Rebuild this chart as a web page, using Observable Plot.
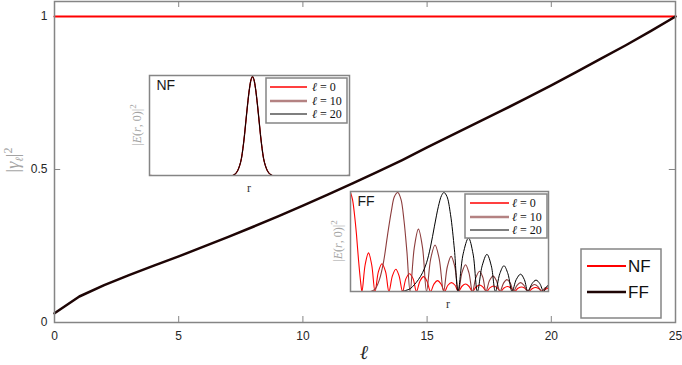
<!DOCTYPE html>
<html><head><meta charset="utf-8">
<script src="https://cdn.jsdelivr.net/npm/d3@7"></script>
<script src="https://cdn.jsdelivr.net/npm/@observablehq/plot@0.6"></script>
<style>
body{margin:0;background:#fff}
#c{position:relative;width:682px;height:365px;overflow:hidden;background:#fff}
#c > svg, #c > .plot{position:absolute}
.lbl{position:absolute;transform:translate(-50%,-50%);white-space:nowrap;font-family:"Liberation Serif","Times New Roman",serif}
svg.leg text.serif{font-family:"Liberation Serif","Times New Roman",serif}
svg.leg text.sans{font-family:"Liberation Sans",Arial,sans-serif}
</style></head><body><div id="c"></div>
<script>
// ---- main chart data ----
const ell = [0,1,2,3,4,5,6,7,8,9,10,11,12,13,14,15,16,17,18,19,20,21,22,23,24,25];
const nfGamma = [1,1,1,1,1,1,1,1,1,1,1,1,1,1,1,1,1,1,1,1,1,1,1,1,1,1];
const ffGamma = [0.03,0.085,0.122,0.155,0.186,0.216,0.248,0.28,0.313,0.347,0.382,0.418,0.455,0.492,0.531,0.572,0.612,0.652,0.692,0.733,0.775,0.818,0.862,0.906,0.952,1.0];
const xTicks = [0,5,10,15,20,25];
const yTicks = [0,0.5,1];
const seriesNames = ["NF","FF"];
const insetNames = ["\u2113 = 0","\u2113 = 10","\u2113 = 20"];

// ---- NF inset (all three orders coincide) ----
const nfR = [0,4.15,4.35,4.55,4.70,4.80,4.90,5.00,5.08,5.15,5.22,5.30,5.40,5.50,5.60,5.75,5.95,6.15,10];
const nfE = [0,0,0.03,0.13,0.32,0.51,0.71,0.88,0.97,1.0,0.97,0.88,0.71,0.51,0.32,0.13,0.03,0,0];

// ---- FF inset ----
const ff0R = [0,0.10,0.20,0.30,0.40,0.51,0.58, 0.74,0.91,1.07,1.24, 1.41,1.59,1.77,1.94, 2.12,2.29,2.45,2.63, 2.80,2.98,3.16,3.33, 3.51,3.69,3.86,4.04, 4.22,4.39,4.57,4.75, 4.92,5.10,5.28,5.45, 5.63,5.81,5.98,6.16, 6.34,6.52,6.69,6.87, 7.05,7.22,7.40,7.58, 7.75,7.93,8.11,8.28, 8.46,8.64,8.81,8.99, 9.17,9.34,9.52,9.70, 9.87,10.0];
const ff0E = [1.0,0.93,0.78,0.58,0.33,0.10,0, 0.27,0.39,0.27,0, 0.20,0.28,0.20,0, 0.16,0.225,0.16,0, 0.13,0.18,0.13,0, 0.105,0.15,0.105,0, 0.077,0.11,0.077,0, 0.063,0.09,0.063,0, 0.053,0.075,0.053,0, 0.045,0.065,0.045,0, 0.039,0.055,0.039,0, 0.035,0.05,0.035,0, 0.032,0.045,0.032,0, 0.028,0.04,0.028,0, 0.025,0.035];
const ff10R = [0,1.01,1.26,1.46,1.67,1.87,2.07,2.22,2.39,2.55,2.70,2.85,3.01, 3.22,3.43,3.64,3.84, 4.05,4.27,4.48,4.70, 4.89,5.08,5.27,5.45, 5.63,5.81,5.98,6.16, 6.34,6.52,6.68,6.84, 7.02,7.20,7.37,7.55, 7.73,7.90,8.07,8.23, 8.41,8.59,8.76,8.94, 9.12,9.29,9.47,9.65, 9.82,10.0];
const ff10E = [0,0,0.03,0.12,0.30,0.57,0.82,0.96,1.0,0.93,0.72,0.40,0, 0.44,0.63,0.44,0, 0.33,0.47,0.33,0, 0.25,0.355,0.25,0, 0.19,0.27,0.19,0, 0.145,0.205,0.145,0, 0.11,0.155,0.11,0, 0.085,0.12,0.085,0, 0.063,0.09,0.063,0, 0.05,0.07,0.05,0, 0.035,0.05];
const ff20R = [0,2.53,2.78,3.03,3.23,3.43,3.64,3.84,4.04,4.24,4.44,4.60,4.72,4.87,5.05,5.25,5.43, 5.69,5.96,6.19,6.41, 6.65,6.89,7.11,7.32, 7.54,7.75,7.95,8.16, 8.37,8.59,8.78,8.96, 9.17,9.37,9.56,9.75, 9.87,10.0];
const ff20E = [0,0,0.01,0.03,0.07,0.12,0.19,0.29,0.45,0.66,0.86,0.97,1.0,0.96,0.78,0.42,0, 0.38,0.54,0.38,0, 0.26,0.375,0.26,0, 0.18,0.26,0.18,0, 0.12,0.175,0.12,0, 0.08,0.115,0.08,0, 0.04,0.07];

const GRAY = "#858585";
const RED = "#ff0000";
const DARK = "#1e0505";
const BROWN = "#8c3c3c";
const BROWN_LEG = "#b48282";
const c = document.getElementById("c");

// ---- main plot ----
const tl = 0.0196, tlx = 0.25;
const main = Plot.plot({
  width: 682, height: 365,
  marginLeft: 54, marginRight: 7, marginTop: 1, marginBottom: 43,
  x: {domain: [0, 25]},
  y: {domain: [0, 1.049]},
  style: {fontFamily: "'Liberation Sans', Arial, sans-serif", fontSize: "12px", color: "#262626", background: "transparent", overflow: "visible"},
  marks: [
    Plot.ruleX(xTicks, {x: d => d, y1: 0, y2: tl, stroke: GRAY, strokeWidth: 1}),
    Plot.ruleX(xTicks, {x: d => d, y1: 1.049, y2: 1.049 - tl, stroke: GRAY, strokeWidth: 1}),
    Plot.ruleY(yTicks, {y: d => d, x1: 0, x2: tlx, stroke: GRAY, strokeWidth: 1}),
    Plot.ruleY(yTicks, {y: d => d, x1: 25, x2: 25 - tlx, stroke: GRAY, strokeWidth: 1}),
    Plot.line(ell, {x: ell, y: nfGamma, stroke: RED, strokeWidth: 2.2}),
    Plot.line(ell, {x: ell, y: ffGamma, stroke: DARK, strokeWidth: 2.5}),
    Plot.frame({stroke: GRAY, strokeWidth: 1.5}),
    Plot.axisX({ticks: xTicks, tickSize: 0, tickPadding: 9, label: null}),
    Plot.axisY({ticks: yTicks, tickSize: 0, tickPadding: 7, label: null, tickFormat: d => String(d)})
  ]
});
main.style.left = "0px"; main.style.top = "0px";
c.appendChild(main);

function inset(left, top, w, h, lines, name) {
  const p = Plot.plot({
    width: w + 2, height: h + 2, margin: 1,
    x: {domain: [0, 10], axis: null},
    y: {domain: [0, 1.01], axis: null},
    style: {background: "white", overflow: "visible"},
    marks: [
      ...lines,
      Plot.frame({stroke: GRAY, strokeWidth: 1.5}),
      Plot.text([name], {frameAnchor: "top-left", dx: 7, dy: 5, fontSize: 14, fill: "#1a1a1a",
        fontFamily: "'Liberation Sans', Arial, sans-serif", textAnchor: "start", lineAnchor: "top"})
    ]
  });
  p.style.left = left + "px"; p.style.top = top + "px";
  c.appendChild(p);
}

inset(148, 74, 200, 100, [
  Plot.line(nfR, {x: nfR, y: nfE, stroke: BROWN, strokeWidth: 1.3, curve: "catmull-rom", clip: true}),
  Plot.line(nfR, {x: nfR, y: nfE, stroke: RED, strokeWidth: 1, curve: "catmull-rom", clip: true}),
  Plot.line(nfR, {x: nfR, y: nfE, stroke: "#000", strokeWidth: 1, curve: "catmull-rom", clip: true})
], "NF");

inset(349, 190, 198, 100, [
  Plot.line(ff0R, {x: ff0R, y: ff0E, stroke: RED, strokeWidth: 1.1, curve: "catmull-rom", clip: true}),
  Plot.line(ff10R, {x: ff10R, y: ff10E, stroke: BROWN, strokeWidth: 1.1, curve: "catmull-rom", clip: true}),
  Plot.line(ff20R, {x: ff20R, y: ff20E, stroke: "#000", strokeWidth: 1, curve: "catmull-rom", clip: true})
], "FF");

// ---- legends ----
const NS = "http://www.w3.org/2000/svg";
function svgEl(tag, attrs, parent) {
  const e = document.createElementNS(NS, tag);
  for (const k in attrs) e.setAttribute(k, attrs[k]);
  if (parent) parent.appendChild(e);
  return e;
}
function legendBox(left, top, w, h) {
  const s = svgEl("svg", {width: w + 3, height: h + 3, class: "leg"});
  s.style.position = "absolute"; s.style.left = left + "px"; s.style.top = top + "px";
  svgEl("rect", {x: 1, y: 1, width: w, height: h, fill: "white", stroke: GRAY, "stroke-width": 1.5}, s);
  c.appendChild(s);
  return s;
}
// main legend
{
  const s = legendBox(580, 248, 80, 69);
  const cols = [RED, DARK], widths = [2, 2.5], ys = [18, 44];
  seriesNames.forEach((n, i) => {
    svgEl("line", {x1: 7, x2: 46, y1: ys[i], y2: ys[i], stroke: cols[i], "stroke-width": widths[i]}, s);
    const t = svgEl("text", {class: "sans", x: 48, y: ys[i], "dominant-baseline": "central", "font-size": 17, fill: "#111"}, s);
    t.textContent = n;
  });
}
function insetLegend(left, top, w, h, x1, x2, tx) {
  const s = legendBox(left, top, w, h);
  const cols = [RED, BROWN_LEG, "#000"], widths = [1.3, 2.6, 1.2], ys = [10, 24, 37];
  insetNames.forEach((n, i) => {
    svgEl("line", {x1, x2, y1: ys[i], y2: ys[i], stroke: cols[i], "stroke-width": widths[i]}, s);
    const t = svgEl("text", {class: "serif", x: tx, y: ys[i], "dominant-baseline": "central", "font-size": 12, fill: "#111"}, s);
    const a = svgEl("tspan", {"font-style": "italic"}, t); a.textContent = n.slice(0, 1);
    const b = svgEl("tspan", {}, t); b.textContent = n.slice(1);
  });
}
insetLegend(265, 77, 81, 45, 5, 42, 47);
insetLegend(464, 193, 82, 44, 6, 45, 48);

// ---- text labels ----
function label(html, x, y, css) {
  const d = document.createElement("div");
  d.className = "lbl";
  d.innerHTML = html;
  d.style.left = x + "px"; d.style.top = y + "px";
  Object.assign(d.style, css || {});
  c.appendChild(d);
}
label("<i>\u2113</i>", 364, 352, {fontSize: "20px", color: "#262626"});
label("|<i>\u03b3</i><sub style='font-size:11px'><i>\u2113</i></sub>|<sup style='font-size:12px'>2</sup>", 13, 160,
  {fontSize: "18px", color: "#a3a3a3", transform: "translate(-50%,-50%) rotate(-90deg)"});
const eLab = "|<i>E</i>(<i>r</i>, 0)|<sup style='font-size:9px'>2</sup>";
label(eLab, 136, 125, {fontSize: "12px", color: "#a3a3a3", transform: "translate(-50%,-50%) rotate(-90deg)"});
label(eLab, 337, 241, {fontSize: "12px", color: "#a3a3a3", transform: "translate(-50%,-50%) rotate(-90deg)"});
label("r", 249, 188, {fontSize: "12px", color: "#333"});
label("r", 448, 304, {fontSize: "12px", color: "#333"});
</script>
</body></html>
